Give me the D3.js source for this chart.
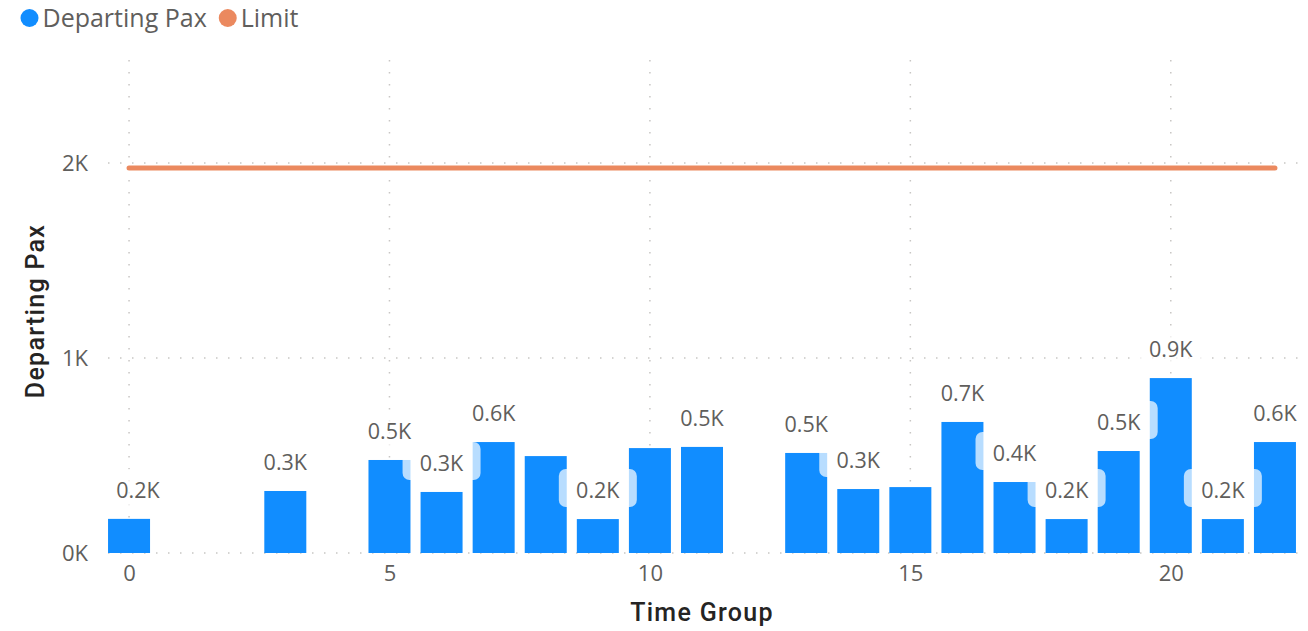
<!DOCTYPE html>
<html><head><meta charset="utf-8">
<script src="https://cdn.jsdelivr.net/npm/d3@7"></script>
<style>body{margin:0;background:#fff;}svg{display:block;}</style>
</head><body>
<svg id="c" width="1308" height="631"></svg>
<script>
const timeGroups = [0,3,5,6,7,8,9,10,11,13,14,15,16,17,18,19,20,21,22];
const departingPax = [175,318,477,313,569,497,174,538,544,513,328,338,672,364,174,523,897,174,569];
const showLabel = [true,true,true,true,true,false,true,false,true,true,true,false,true,true,true,true,true,true,true];
const limitValue = 1975;
const limitRange = [0,22];
const xTicks = [0,5,10,15,20];
const yTicks = [0,1000,2000];
const seriesNames = ["Departing Pax","Limit"];
const colors = ["#118DFF","#EB895F"];

const svg = d3.select("#c");
const font = "'Open Sans', 'Segoe UI', sans-serif";
const x = d3.scaleLinear().domain([-0.5,22.5]).range([103,1301]);
const y = d3.scaleLinear().domain([0,2500]).range([553,65.5]);
const bw = 42;

// gridlines
const grid = svg.append("g");
grid.selectAll(".hg").data(yTicks).join("line")
  .attr("x1",108).attr("x2",1300).attr("y1",d=>y(d)).attr("y2",d=>y(d))
  .attr("stroke","#c8c6c4").attr("stroke-width",1.5).attr("stroke-dasharray","1.5,10.5");
grid.selectAll(".vg").data(xTicks).join("line")
  .attr("x1",d=>x(d)).attr("x2",d=>x(d)).attr("y1",60).attr("y2",553)
  .attr("stroke","#c8c6c4").attr("stroke-width",1.5).attr("stroke-dasharray","1.5,10.5");

// y axis labels
const yAxis = d3.axisLeft(y).tickValues(yTicks).tickFormat(d=>(d/1000)+"K").tickSize(0).tickPadding(0);
const ya = svg.append("g").attr("transform","translate(88,0)").call(yAxis);
ya.select(".domain").remove();
ya.selectAll("text").attr("font-family",font).attr("font-size",22).attr("fill","#605e5c").attr("dy","0.35em");

// x axis labels
const xAxis = d3.axisBottom(x).tickValues(xTicks).tickFormat(d3.format("d")).tickSize(0).tickPadding(0);
const xa = svg.append("g").attr("transform","translate(0,565)").call(xAxis);
xa.select(".domain").remove();
xa.selectAll("text").attr("font-family",font).attr("font-size",22).attr("fill","#605e5c").attr("dy","0.71em");

// bars
svg.append("g").selectAll("rect").data(timeGroups).join("rect")
  .attr("x",(d)=>x(d)-bw/2).attr("width",bw)
  .attr("y",(d,i)=>y(departingPax[i])).attr("height",(d,i)=>y(0)-y(departingPax[i]))
  .attr("fill",colors[0]);

// limit line
svg.append("line")
  .attr("x1",x(limitRange[0])).attr("x2",x(limitRange[1]))
  .attr("y1",y(limitValue)).attr("y2",y(limitValue))
  .attr("stroke",colors[1]).attr("stroke-width",5).attr("stroke-linecap","round");

// data labels
const lg = svg.append("g");
timeGroups.forEach((t,i)=>{
  if(!showLabel[i]) return;
  const cx = x(t) + (t===0?9:0);
  const cy = y(departingPax[i]) - 31;
  lg.append("rect").attr("x",cx-39).attr("y",cy-19).attr("width",78).attr("height",38)
    .attr("rx",7).attr("fill","#fff").attr("fill-opacity",0.7);
  lg.append("text").attr("x",cx).attr("y",cy+2.5).attr("dy","0.35em").attr("text-anchor","middle")
    .attr("font-family",font).attr("font-size",21.5).attr("fill","#605e5c")
    .text((departingPax[i]/1000).toFixed(1)+"K");
});

// axis titles
svg.append("text").attr("x",702).attr("y",612).attr("dy","0.35em").attr("text-anchor","middle")
  .attr("font-family","'Roboto', sans-serif").attr("font-weight",500).attr("font-size",25)
  .attr("letter-spacing",1.3).attr("fill","#252423").text("Time Group");
svg.append("text").attr("transform","translate(35,311) rotate(-90)").attr("dy","0.35em").attr("text-anchor","middle")
  .attr("font-family","'Roboto', sans-serif").attr("font-weight",500).attr("font-size",25)
  .attr("letter-spacing",1.3).attr("fill","#252423").text("Departing Pax");

// legend
const leg = svg.append("g");
let lx = 29.5;
seriesNames.forEach((n,i)=>{
  leg.append("circle").attr("cx",lx).attr("cy",18).attr("r",9).attr("fill",colors[i]);
  const t = leg.append("text").attr("x",lx+13).attr("y",18).attr("dy","0.35em")
    .attr("font-family",font).attr("font-size",25).attr("fill","#605e5c").text(n);
  lx += 13 + t.node().getComputedTextLength() + 21;
});
</script>
</body></html>
